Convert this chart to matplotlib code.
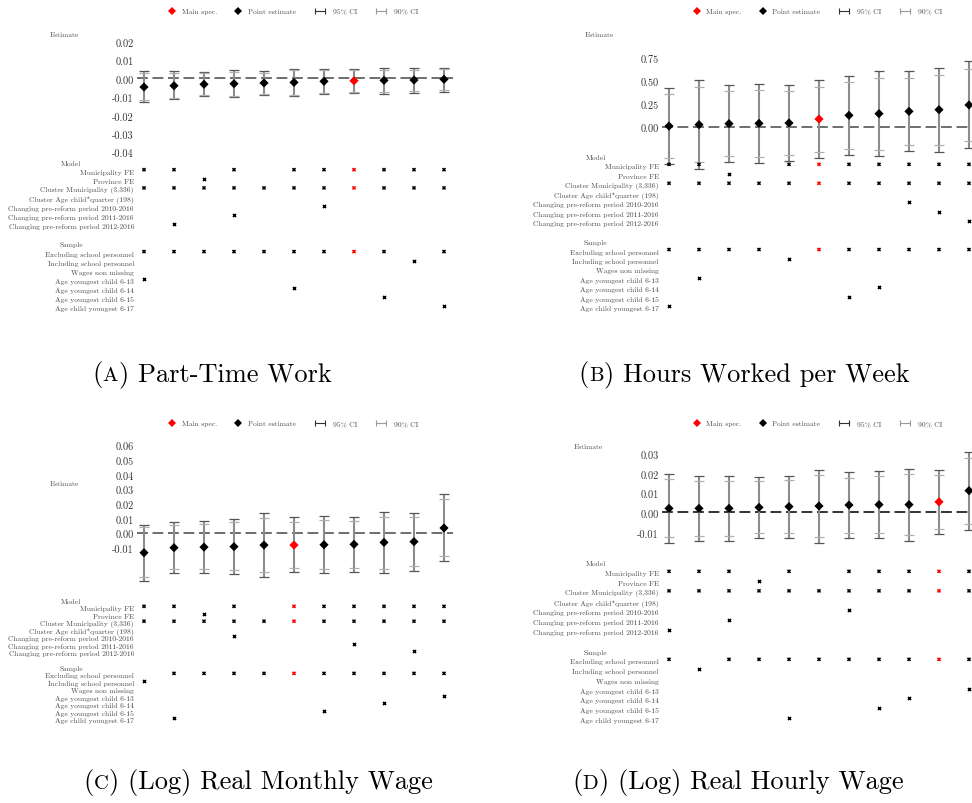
import numpy as np
import matplotlib.pyplot as plt
from matplotlib import transforms
from matplotlib.text import Annotation

plt.rcParams['font.family'] = ['cmr10', 'DejaVu Serif']
plt.rcParams['axes.unicode_minus'] = False
plt.rcParams['axes.formatter.use_mathtext'] = True

W, H = 972, 804

# ---- data -------------------------------------------------------------
specs = np.arange(1, 12)

model_rows = ["Municipality FE", "Province FE", "Cluster Municipality (3,336)",
              "Cluster Age child*quarter (198)",
              "Changing pre-reform period 2010-2016",
              "Changing pre-reform period 2011-2016",
              "Changing pre-reform period 2012-2016"]
sample_rows = ["Excluding school personnel", "Including school personnel",
               "Wages non missing", "Age youngest child 6-13",
               "Age youngest child 6-14", "Age youngest child 6-15",
               "Age child youngest 6-17"]
all_cols = list(range(1, 12))

# (A) Part-Time Work
a_est = [-0.0049, -0.0042, -0.0034, -0.0031, -0.0027, -0.0024, -0.0018, -0.0015, -0.0013, -0.0011, -0.0007]
a_hi95 = [0.0036, 0.0036, 0.0033, 0.0042, 0.0038, 0.0051, 0.0051, 0.0051, 0.0054, 0.0053, 0.0056]
a_hi90 = [0.0027, 0.0027, 0.0025, 0.0033, 0.0029, 0.0042, 0.0042, 0.0042, 0.0045, 0.0044, 0.0049]
a_lo90 = [-0.0120, -0.0107, -0.0092, -0.0096, -0.0085, -0.0091, -0.0080, -0.0074, -0.0076, -0.0073, -0.0065]
a_lo95 = [-0.0130, -0.0114, -0.0100, -0.0105, -0.0094, -0.0100, -0.0089, -0.0083, -0.0085, -0.0082, -0.0074]
a_main = 8
a_model = [[1, 2, 4, 6, 7, 8, 9, 10, 11], [3], all_cols, [], [7], [4], [2]]
a_sample = [[1, 2, 3, 4, 5, 6, 7, 8, 9, 11], [10], [], [1], [6], [9], [11]]

# (B) Hours Worked per Week
b_est = [0.007, 0.022, 0.033, 0.036, 0.040, 0.083, 0.123, 0.141, 0.166, 0.184, 0.235]
b_hi95 = [0.415, 0.509, 0.447, 0.462, 0.447, 0.501, 0.552, 0.599, 0.599, 0.631, 0.707]
b_hi90 = [0.350, 0.429, 0.382, 0.400, 0.386, 0.433, 0.483, 0.527, 0.530, 0.563, 0.628]
b_lo90 = [-0.336, -0.386, -0.318, -0.325, -0.303, -0.274, -0.242, -0.256, -0.195, -0.195, -0.159]
b_lo95 = [-0.404, -0.462, -0.382, -0.393, -0.372, -0.339, -0.310, -0.321, -0.267, -0.274, -0.235]
b_main = 6
b_model = [[1, 2, 5, 6, 7, 8, 9, 10, 11], [3], all_cols, [], [9], [10], [11]]
b_sample = [[1, 2, 3, 4, 6, 7, 8, 9, 10, 11], [5], [], [2], [8], [7], [1]]

# (C) (Log) Real Monthly Wage
c_est = [-0.0136, -0.0102, -0.0098, -0.0095, -0.0084, -0.0084, -0.0082, -0.0079, -0.0066, -0.0061, 0.0032]
c_hi95 = [0.0054, 0.0075, 0.0079, 0.0095, 0.0132, 0.0104, 0.0113, 0.0109, 0.0138, 0.0136, 0.0261]
c_hi90 = [0.0041, 0.0052, 0.0057, 0.0073, 0.0102, 0.0073, 0.0086, 0.0082, 0.0109, 0.0107, 0.0229]
c_lo90 = [-0.0299, -0.0249, -0.0247, -0.0254, -0.0268, -0.0238, -0.0247, -0.0238, -0.0245, -0.0229, -0.0159]
c_lo95 = [-0.0329, -0.0274, -0.0272, -0.0279, -0.0299, -0.0268, -0.0272, -0.0268, -0.0272, -0.0261, -0.0195]
c_main = 6
c_model = [[1, 2, 4, 6, 7, 8, 9, 10, 11], [3], all_cols, [], [4], [8], [10]]
c_sample = [[2, 3, 4, 5, 6, 7, 8, 9, 10, 11], [1], [], [11], [9], [7], [2]]

# (D) (Log) Real Hourly Wage
d_est = [0.0020, 0.0020, 0.0020, 0.0025, 0.0029, 0.0032, 0.0037, 0.0039, 0.0039, 0.0053, 0.0110]
d_hi95 = [0.0193, 0.0186, 0.0186, 0.0181, 0.0186, 0.0217, 0.0205, 0.0210, 0.0222, 0.0217, 0.0305]
d_hi90 = [0.0168, 0.0161, 0.0161, 0.0158, 0.0163, 0.0188, 0.0176, 0.0183, 0.0193, 0.0190, 0.0275]
d_lo90 = [-0.0125, -0.0119, -0.0119, -0.0105, -0.0103, -0.0125, -0.0105, -0.0107, -0.0115, -0.0086, -0.0058]
d_lo95 = [-0.0156, -0.0148, -0.0146, -0.0131, -0.0129, -0.0154, -0.0131, -0.0132, -0.0144, -0.0112, -0.0088]
d_main = 10
d_model = [[1, 2, 3, 5, 7, 8, 9, 10, 11], [4], all_cols, [], [7], [3], [1]]
d_sample = [[1, 3, 4, 5, 6, 7, 8, 9, 10, 11], [2], [], [11], [9], [8], [5]]

a_ticks = [0.02, 0.01, 0.0, -0.01, -0.02, -0.03, -0.04]
b_ticks = [0.75, 0.5, 0.25, 0.0]
c_ticks = [0.06, 0.05, 0.04, 0.03, 0.02, 0.01, 0.0, -0.01]
d_ticks = [0.03, 0.02, 0.01, 0.0, -0.01]

# ---- figure -------------------------------------------------------------
fig = plt.figure(figsize=(W / 100, H / 100), dpi=100)

TXT = '#4a4a4a'
SMALL = 5.4


def px_axes(x0, y0, x1, y1):
    ax = fig.add_axes([x0 / W, 1 - y1 / H, (x1 - x0) / W, (y1 - y0) / H])
    ax.set_axis_off()
    return ax


def shift(dx, dy):
    # offset in pixels (dy > 0 moves down)
    return transforms.ScaledTranslation(dx / 100, -dy / 100, fig.dpi_scale_trans)


def caption(x, y, letter, title, size=19):
    # "(x) Title" with a small-caps panel letter
    yf = 1 - y / H
    t1 = fig.text(x / W, yf, '(', fontsize=size, va='baseline', ha='left')
    t2 = Annotation(letter, xy=(1, yf), xycoords=(t1, 'figure fraction'),
                    xytext=(0.4, 0), textcoords='offset points',
                    fontsize=size * 0.78, va='baseline', ha='left')
    fig.add_artist(t2)
    t3 = Annotation(') ' + title, xy=(1, yf), xycoords=(t2, 'figure fraction'),
                    xytext=(0.4, 0), textcoords='offset points',
                    fontsize=size, va='baseline', ha='left')
    fig.add_artist(t3)


def panel(est, lo95, hi95, lo90, hi90, main, model, sample, ticks, fmt,
          ox, x0, x1, c1, zero, scale, row0, step, est_xy, legend_y, legend_dx,
          dash_color):
    xl = (1 + (x0 - c1) / 30, 1 + (x1 - c1) / 30)

    # estimates
    ytop, ybot = zero - 120, zero + 60
    ax = px_axes(ox + x0, ytop, ox + x1, ybot)
    ax.set_xlim(*xl)
    ax.set_ylim((zero - ybot) / scale, (zero - ytop) / scale)
    ax.axhline(0, color=dash_color, lw=1.2, ls=(0, (6.5, 2.8)), zorder=1)
    ax.vlines(specs, lo95, hi95, color='#8c8c8c', lw=1.5, zorder=2, clip_on=False)
    for vals, col in [(hi95, '#555555'), (lo95, '#555555'), (hi90, '#b0b0b0'), (lo90, '#b0b0b0')]:
        ax.plot(specs, vals, ls='none', marker='_', ms=7.5, mew=0.9, color=col,
                clip_on=False, zorder=3)
    cols = ['red' if s == main else 'black' for s in specs]
    ax.scatter(specs, est, marker='D', s=22, c=cols, zorder=4, clip_on=False, linewidths=0)
    tr = ax.get_yaxis_transform() + shift(-3, 2)
    for t in ticks:
        ax.text(0, t, fmt.format(t), transform=tr, ha='right', va='center',
                fontsize=7.4, color='#333333')
    fig.text((ox + est_xy[0]) / W, 1 - est_xy[1] / H, 'Estimate',
             ha='center', va='center', fontsize=SMALL, color=TXT)

    # indicator matrix
    ai = px_axes(ox + x0, row0 - 2 * step, ox + x1, row0 + 16 * step)
    ai.set_xlim(*xl)
    ai.set_ylim(16, -2)
    trl = ai.get_yaxis_transform() + shift(-3, 2)
    trh = ai.get_yaxis_transform() + shift(-66, 2)
    ai.text(0, -1, 'Model', transform=trh, ha='center', va='center', fontsize=SMALL, color=TXT)
    ai.text(0, 8, 'Sample', transform=trh, ha='center', va='center', fontsize=SMALL, color=TXT)
    rows = [(i, model_rows[i], model[i]) for i in range(7)] + \
           [(9 + i, sample_rows[i], sample[i]) for i in range(7)]
    for r, lab, on in rows:
        ai.text(0, r, lab, transform=trl, ha='right', va='center', fontsize=SMALL, color=TXT)
        if on:
            c = ['red' if s == main else 'black' for s in on]
            ai.scatter(on, [r] * len(on), marker='x', s=5, c=c, linewidths=1.1, clip_on=False)

    # legend strip (local pixel units)
    al = px_axes(ox, legend_y - 10, ox + 486, legend_y + 10)
    al.set_xlim(0, 486)
    al.set_ylim(10, -10)
    d = legend_dx
    al.plot([172.3 + d], [0], marker='D', ms=4.3, color='red', mew=0)
    al.plot([238.3 + d], [0], marker='D', ms=4.3, color='black', mew=0)
    for cx, col in [(319.5 + d, '#333333'), (381 + d, '#9a9a9a')]:
        al.plot([cx - 5, cx + 5], [0, 0], color=col, lw=0.8)
        al.plot([cx - 5, cx + 5], [0, 0], ls='none', marker='|', ms=4.5, mew=0.8, color=col)
    for tx, lab in [(181.7, 'Main spec.'), (247.7, 'Point estimate'),
                    (332.7, '95% CI'), (393.7, '90% CI')]:
        al.text(tx + d, 0, lab, ha='left', va='center', fontsize=SMALL, color=TXT)


panel(a_est, a_lo95, a_hi95, a_lo90, a_hi90, a_main, a_model, a_sample,
      a_ticks, '{:.2f}', 0, 137, 453, 144, 79, 1840, 170.7, 9.1,
      (64, 35), 12, 0, '#555555')
panel(b_est, b_lo95, b_hi95, b_lo90, b_hi90, b_main, b_model, b_sample,
      b_ticks, '{:.2f}', 486, 175.7, 486, 183, 127.7, 92.4, 165.3, 9.47,
      (113, 35), 12, 38.3, '#555555')
panel(c_est, c_lo95, c_hi95, c_lo90, c_hi90, c_main, c_model, c_sample,
      c_ticks, '{:.2f}', 0, 137, 453, 144, 533.7, 1470, 607.3, 7.45,
      (64, 483.7), 424.3, 0, '#555555')
panel(d_est, d_lo95, d_hi95, d_lo90, d_hi90, d_main, d_model, d_sample,
      d_ticks, '{:.2f}', 486, 175.7, 486, 183, 513.3, 1966.7, 572.3, 9.78,
      (102.7, 446.7), 424.3, 38.3, '#111111')

caption(92, 381, 'A', 'Part-Time Work')
caption(578, 381, 'B', 'Hours Worked per Week')
caption(83, 789, 'C', '(Log) Real Monthly Wage')
caption(572, 789, 'D', '(Log) Real Hourly Wage')

fig.savefig('out.png', dpi=100)
